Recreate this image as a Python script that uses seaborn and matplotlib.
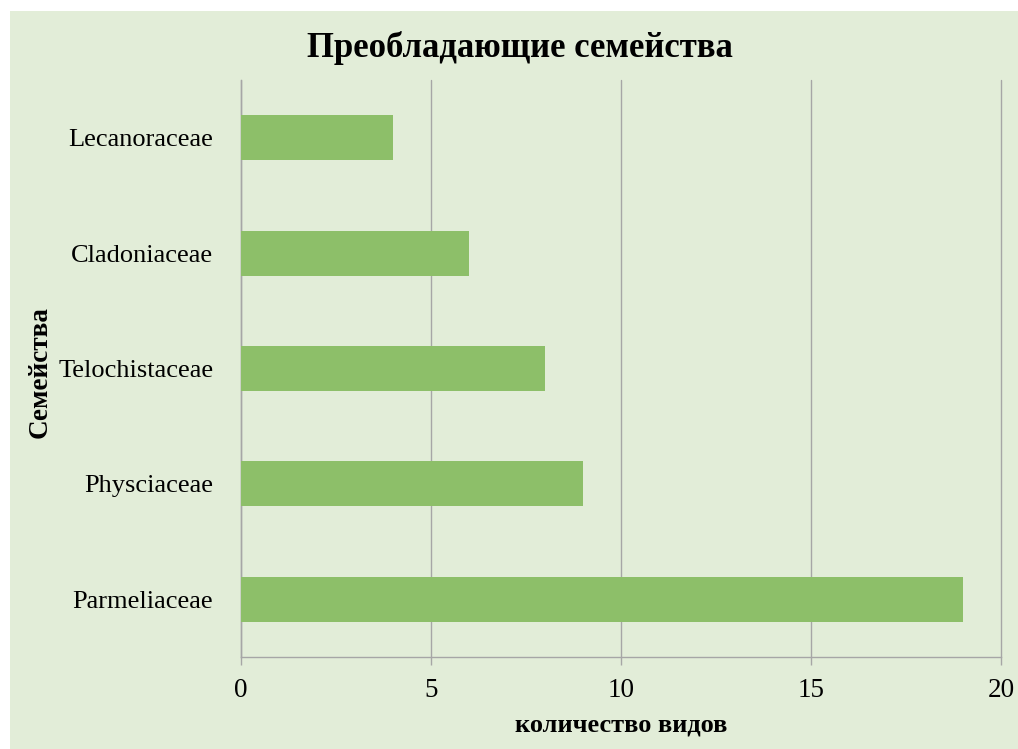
import matplotlib
matplotlib.use("Agg")
import matplotlib.pyplot as plt
import seaborn as sns
import pandas as pd
from matplotlib.patches import Rectangle

# data
families = ["Lecanoraceae", "Cladoniaceae", "Telochistaceae", "Physciaceae", "Parmeliaceae"]
species_count = [4, 6, 8, 9, 19]
x_ticks = [0, 5, 10, 15, 20]

df = pd.DataFrame({"family": families, "count": species_count})

sns.set_theme(style="white")
plt.rcParams["font.family"] = ["Liberation Serif", "DejaVu Serif"]
plt.rcParams["text.color"] = "black"

bg = "#E2EDD8"
bar_color = "#8DBF69"
grid_color = "#A6A6A6"

fig = plt.figure(figsize=(10.18, 7.49), dpi=100)
fig.patch.set_facecolor("white")
# green chart panel with a thin white margin on top and left
fig.patches.append(Rectangle((10 / 1018, 0.0), 1.0, 1 - 11 / 749,
                             transform=fig.transFigure, facecolor=bg,
                             edgecolor="none", zorder=-10))

ax = fig.add_axes([241 / 1018, 1 - 657 / 749, 760 / 1018, 577 / 749])
ax.patch.set_alpha(0)

sns.barplot(data=df, x="count", y="family", orient="h", color=bar_color,
            width=0.39, saturation=1, linewidth=0, ax=ax, zorder=3)

ax.set_xlim(0, 20)
ax.set_ylim(4.5, -0.5)
ax.set_xticks(x_ticks)
ax.xaxis.grid(True, color=grid_color, linewidth=1)
ax.yaxis.grid(False)
ax.set_axisbelow(True)
for gl in ax.get_xgridlines():
    gl.set_clip_on(False)

for side in ["top", "right"]:
    ax.spines[side].set_visible(False)
for side in ["left", "bottom"]:
    ax.spines[side].set_color(grid_color)
    ax.spines[side].set_linewidth(1)

ax.tick_params(axis="x", length=6, width=1, color=grid_color, pad=9,
               labelsize=19.5, labelcolor="black", bottom=True)
ax.tick_params(axis="y", length=0, pad=20, labelsize=19, labelcolor="black")

ax.set_xlabel("количество видов", fontsize=19, fontweight="bold", labelpad=8,
              color="black")
ax.set_ylabel("")
fig.text(40 / 1018, 1 - 372 / 749, "Семейства", rotation=90, fontsize=19.5,
         fontweight="bold", ha="center", va="center")
fig.text(520 / 1018, 1 - 48 / 749, "Преобладающие семейства", fontsize=25,
         fontweight="bold", ha="center", va="center")

fig.savefig("out.png", dpi=100, facecolor=fig.get_facecolor())
